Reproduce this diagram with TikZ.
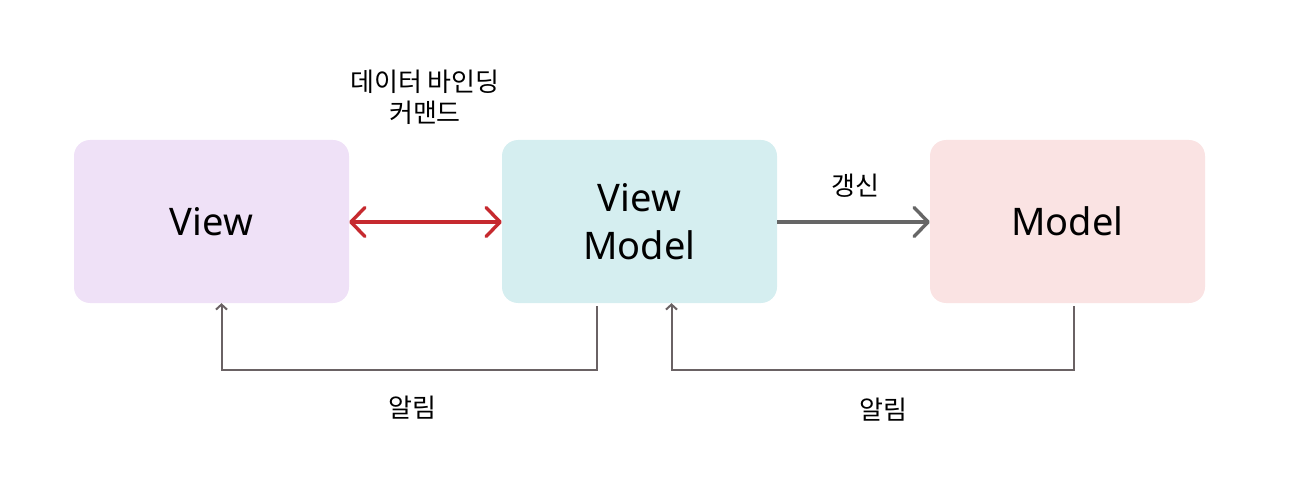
\documentclass[tikz,border=0pt]{standalone}
\usepackage{fontspec}
\setmainfont{Noto Sans}
\newfontfamily\kr{Noto Sans CJK KR}
\usetikzlibrary{arrows.meta}
\definecolor{viewc}{HTML}{EFE1F7}
\definecolor{vmc}{HTML}{D5EEF0}
\definecolor{modc}{HTML}{FAE3E3}
\definecolor{redc}{HTML}{C62A2F}
\definecolor{grayc}{HTML}{666666}
\definecolor{thinc}{HTML}{6A6264}
\tikzset{
  box/.style={rounded corners=16pt, minimum width=275pt, minimum height=163pt, inner sep=0pt, font=\fontsize{38}{48}\selectfont, align=center},
  lbl/.style={font=\kr\fontsize{26}{31}\selectfont, align=center, inner sep=0pt},
  bigtip/.tip={Straight Barb[length=14pt,width=29pt,round]},
  big/.style={line width=3.4pt, -bigtip},
  thin/.style={line width=2pt, color=thinc, -{Straight Barb[length=5pt,width=11pt]}}
}
\begin{document}
\begin{tikzpicture}[x=1pt,y=-1pt]
\useasboundingbox (0,0) rectangle (1292,478);
\node[box, fill=viewc] (view) at (211.5,221.5) {View};
\node[box, fill=vmc] (vm) at (639.5,221.5) {View\\Model};
\node[box, fill=modc] (model) at (1067.5,221.5) {Model};
\draw[big, bigtip-bigtip, redc] (view.east |- 0,222) -- (vm.west |- 0,222);
\draw[big, grayc] (vm.east |- 0,222) -- (model.west |- 0,222);
\node[lbl] (t1) at (425,97.5) {데이터 바인딩\\커맨드};
\node[lbl] (t2) at (855,186) {갱신};
\coordinate (a1) at (596.5,306);
\coordinate (a2) at (221.5,370);
\coordinate (b1) at (1074,306);
\coordinate (b2) at (671.5,370);
\draw[thin] (a1) |- (a2) -- (a2 |- view.south);
\draw[thin] (b1) |- (b2) -- (b2 |- vm.south);
\node[lbl] (n1) at (412,408) {알림};
\node[lbl] (n2) at (883,410) {알림};
\end{tikzpicture}
\end{document}
